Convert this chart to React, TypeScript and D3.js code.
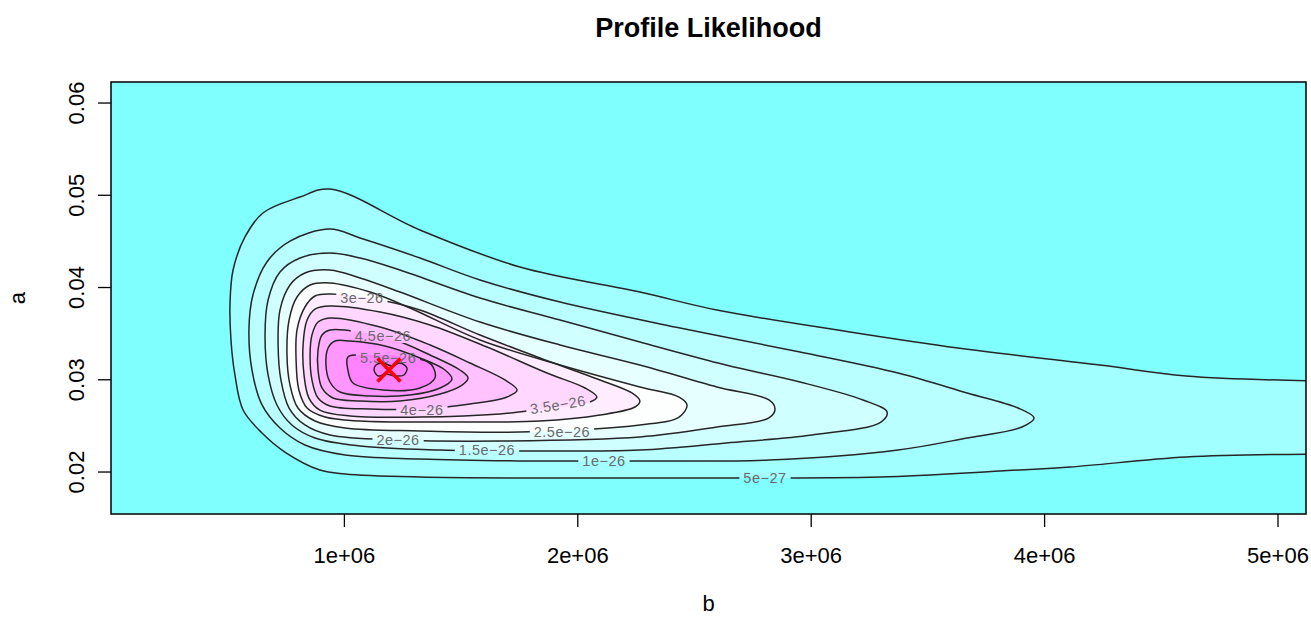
import React, { useEffect, useRef } from "react";
import * as d3 from "d3";

// ---------- data (b in millions, a) ----------
const levels = [5e-27, 1e-26, 1.5e-26, 2e-26, 2.5e-26, 3e-26, 3.5e-26, 4e-26, 4.5e-26, 5e-26, 5.5e-26, 6e-26];

// outermost contour (open at the right edge)
const c05: [number, number][] = [
  [5.18, 0.02987], [4.606, 0.03041], [4.237, 0.0316], [3.629, 0.03344], [3.166, 0.03518], [2.596, 0.03756],
  [2.266, 0.03951], [1.752, 0.04222], [1.324, 0.04624], [0.938, 0.05068], [0.81, 0.04981], [0.651, 0.04808],
  [0.574, 0.04548], [0.523, 0.0419], [0.51, 0.03832], [0.514, 0.03431], [0.531, 0.03052], [0.566, 0.02672],
  [0.647, 0.02423], [0.745, 0.02217], [0.895, 0.02022], [1.003, 0.01979], [1.324, 0.01946], [1.881, 0.01935],
  [2.524, 0.01935], [3.295, 0.01946], [3.809, 0.02011], [4.109, 0.02054], [4.606, 0.02163], [5.18, 0.02195],
];
const c10: [number, number][] = [
  [0.938, 0.04634], [0.767, 0.04504], [0.668, 0.04277], [0.608, 0.03919], [0.591, 0.0354], [0.604, 0.03106],
  [0.647, 0.02727], [0.724, 0.02477], [0.831, 0.02293], [1.003, 0.02185], [1.324, 0.02141], [1.752, 0.0212],
  [2.266, 0.0212], [2.819, 0.0213], [3.372, 0.02239], [3.668, 0.02369], [3.903, 0.02488], [3.955, 0.02586],
  [3.886, 0.02694], [3.668, 0.02857], [3.372, 0.03073], [2.952, 0.03301], [2.438, 0.03561], [1.924, 0.03843],
  [1.581, 0.04082], [1.324, 0.0432], [1.067, 0.04537],
];
const c15: [number, number][] = [
  [0.938, 0.04374], [0.81, 0.0432], [0.724, 0.04168], [0.673, 0.03865], [0.66, 0.03485], [0.673, 0.03052],
  [0.711, 0.02727], [0.775, 0.0251], [0.874, 0.02369], [1.067, 0.02282], [1.41, 0.02239], [1.795, 0.02228],
  [2.266, 0.02239], [2.635, 0.02315], [3.003, 0.02401], [3.299, 0.02542], [3.325, 0.02651], [3.222, 0.02781],
  [2.952, 0.02976], [2.635, 0.0316], [2.266, 0.03409], [1.924, 0.03648], [1.581, 0.03886], [1.238, 0.0419],
  [1.067, 0.0432],
];
const c20: [number, number][] = [
  [0.938, 0.0419], [0.831, 0.04157], [0.767, 0.04027], [0.724, 0.03756], [0.716, 0.03377], [0.728, 0.02998],
  [0.763, 0.02694], [0.831, 0.0251], [0.938, 0.02401], [1.238, 0.02347], [1.667, 0.02336], [2.266, 0.0238],
  [2.596, 0.02488], [2.819, 0.02586], [2.845, 0.02683], [2.819, 0.02781], [2.596, 0.02922], [2.266, 0.0316],
  [1.924, 0.03377], [1.581, 0.03626], [1.238, 0.03951], [1.067, 0.04103],
];
const c25: [number, number][] = [
  [0.938, 0.04049], [0.853, 0.04027], [0.797, 0.03897], [0.763, 0.03648], [0.754, 0.03269], [0.767, 0.02943],
  [0.801, 0.02694], [0.874, 0.02553], [1.003, 0.02477], [1.324, 0.02445], [1.752, 0.02434], [2.266, 0.0251],
  [2.434, 0.02596], [2.468, 0.02727], [2.434, 0.02813], [2.266, 0.02922], [1.924, 0.0316], [1.581, 0.03431],
  [1.281, 0.03778], [1.11, 0.03951],
];
const c30: [number, number][] = [
  [0.938, 0.0393], [0.874, 0.03908], [0.831, 0.03789], [0.797, 0.0354], [0.793, 0.03214], [0.805, 0.02889],
  [0.84, 0.02694], [0.917, 0.02596], [1.067, 0.02553], [1.41, 0.02542], [1.838, 0.02553], [2.095, 0.02618],
  [2.245, 0.02705], [2.266, 0.0277], [2.232, 0.02857], [2.095, 0.02998], [1.838, 0.03236], [1.581, 0.03485],
  [1.324, 0.03756], [1.153, 0.03865],
];
const c35: [number, number][] = [
  [0.938, 0.038], [0.874, 0.03767], [0.84, 0.03648], [0.823, 0.03377], [0.827, 0.03052], [0.848, 0.02802],
  [0.895, 0.02672], [1.024, 0.02607], [1.324, 0.02596], [1.667, 0.02629], [1.782, 0.02662], [1.924, 0.02705],
  [2.052, 0.02759], [2.082, 0.02813], [2.031, 0.02911], [1.868, 0.03073], [1.611, 0.03355], [1.367, 0.03594],
  [1.153, 0.03735],
];
const c40: [number, number][] = [
  [0.938, 0.0367], [0.887, 0.03626], [0.861, 0.03485], [0.853, 0.03269], [0.861, 0.02998], [0.887, 0.02802],
  [0.938, 0.02716], [1.11, 0.02683], [1.324, 0.02683], [1.538, 0.02737], [1.697, 0.02813], [1.74, 0.02889],
  [1.688, 0.02998], [1.538, 0.03182], [1.367, 0.03377], [1.153, 0.03572],
];
const c45: [number, number][] = [
  [0.938, 0.0354], [0.904, 0.03485], [0.887, 0.03323], [0.887, 0.03106], [0.904, 0.02911], [0.951, 0.02802],
  [1.067, 0.0277], [1.238, 0.0277], [1.41, 0.02846], [1.504, 0.02943], [1.53, 0.03019], [1.495, 0.03106],
  [1.367, 0.03269], [1.217, 0.03431], [1.067, 0.03518],
];
const c50: [number, number][] = [
  [0.96, 0.0342], [0.93, 0.03344], [0.921, 0.0316], [0.938, 0.02976], [0.981, 0.02867], [1.11, 0.02824],
  [1.281, 0.02835], [1.41, 0.02911], [1.461, 0.03008], [1.431, 0.03106], [1.324, 0.03236], [1.174, 0.03366],
  [1.024, 0.0342],
];
const c55: [number, number][] = [
  [1.015, 0.03247], [1.015, 0.03106], [1.037, 0.02965], [1.165, 0.02889], [1.324, 0.02911], [1.388, 0.03019],
  [1.38, 0.03138], [1.358, 0.03193], [1.238, 0.03258], [1.11, 0.03269],
];
const c60: [number, number][] = [
  [1.135, 0.0316], [1.165, 0.03182], [1.204, 0.03149], [1.238, 0.03182], [1.268, 0.03128], [1.255, 0.03052],
  [1.217, 0.03041], [1.178, 0.03063], [1.144, 0.03041], [1.127, 0.03106],
];
const contours = [c05, c10, c15, c20, c25, c30, c35, c40, c45, c50, c55, c60];

// contour labels
const labelIndex = [0, 1, 2, 3, 4, 5, 6, 7, 8, 10];
const labelText = ["5e\u221227", "1e\u221226", "1.5e\u221226", "2e\u221226", "2.5e\u221226", "3e\u221226", "3.5e\u221226", "4e\u221226", "4.5e\u221226", "5.5e\u221226"];
const labelB = [2.802, 2.112, 1.611, 1.23, 1.932, 1.075, 1.915, 1.332, 1.165, 1.187];
const labelA = [0.01935, 0.02117, 0.02239, 0.02347, 0.02434, 0.03886, 0.02727, 0.02672, 0.03475, 0.03236];
const labelAngle = [0, 0, 0, 0, 0, 0, -9, 0, 0, 0];

// maximum likelihood estimate
const mle: [number, number] = [1.191, 0.03106];

const xTicks = [1, 2, 3, 4, 5];
const xTickLabels = ["1e+06", "2e+06", "3e+06", "4e+06", "5e+06"];
const yTicks = [0.02, 0.03, 0.04, 0.05, 0.06];
const yTickLabels = ["0.02", "0.03", "0.04", "0.05", "0.06"];

const W = 1311;
const H = 617;
const FONT = "'Liberation Sans', Arial, Helvetica, sans-serif";

export default function App() {
  const ref = useRef<SVGSVGElement>(null);

  useEffect(() => {
    const svg = d3.select(ref.current);
    svg.selectAll("*").remove();

    const left = 111, right = 1306, top = 82, bottom = 514;
    const x = d3.scaleLinear().domain([0, 5.12]).range([left, right]);
    const y = d3.scaleLinear().domain([0.01545, 0.06228]).range([bottom, top]);
    const color = d3
      .scaleLinear<string>()
      .domain([0, 2.8e-26, 5.8e-26])
      .range(["#80ffff", "#ffffff", "#ff80ff"])
      .clamp(true);

    const defs = svg.append("defs");
    defs
      .append("clipPath")
      .attr("id", "plotclip")
      .append("rect")
      .attr("x", left)
      .attr("y", top)
      .attr("width", right - left)
      .attr("height", bottom - top);

    const openLine = d3
      .line<[number, number]>()
      .x((d) => x(d[0]))
      .y((d) => y(d[1]))
      .curve(d3.curveCatmullRom.alpha(0.5));
    const closedLine = d3
      .line<[number, number]>()
      .x((d) => x(d[0]))
      .y((d) => y(d[1]))
      .curve(d3.curveCatmullRomClosed.alpha(0.5));
    const pathOf = (c: [number, number][], i: number) => (i === 0 ? openLine(c) : closedLine(c)) as string;

    const plot = svg.append("g").attr("clip-path", "url(#plotclip)");
    plot
      .append("rect")
      .attr("x", left)
      .attr("y", top)
      .attr("width", right - left)
      .attr("height", bottom - top)
      .attr("fill", color(0));

    // filled bands
    contours.forEach((c, i) => {
      const next = i + 1 < levels.length ? levels[i + 1] : levels[i] + 5e-27;
      plot
        .append("path")
        .attr("d", pathOf(c, i) + (i === 0 ? "Z" : ""))
        .attr("fill", color((levels[i] + next) / 2))
        .attr("stroke", "none");
    });

    // labels (measure first, then build masks that break the lines)
    const labelG = svg.append("g").attr("clip-path", "url(#plotclip)");
    const masks: { [k: number]: string } = {};
    labelIndex.forEach((ci, j) => {
      const cx = x(labelB[j]);
      const cy = y(labelA[j]);
      const t = labelG
        .append("text")
        .attr("x", cx)
        .attr("y", cy)
        .attr("text-anchor", "middle")
        .attr("dominant-baseline", "central")
        .attr("font-family", FONT)
        .attr("font-size", 14.5)
        .attr("letter-spacing", 0.5)
        .attr("fill", "#6a6a6a")
        .text(labelText[j]);
      const bb = (t.node() as SVGTextElement).getBBox();
      if (labelAngle[j]) t.attr("transform", `rotate(${labelAngle[j]},${cx},${cy})`);
      const id = `lab${ci}`;
      const m = defs
        .append("mask")
        .attr("id", id)
        .attr("maskUnits", "userSpaceOnUse")
        .attr("x", 0)
        .attr("y", 0)
        .attr("width", W)
        .attr("height", H);
      m.append("rect").attr("x", 0).attr("y", 0).attr("width", W).attr("height", H).attr("fill", "white");
      m.append("rect")
        .attr("x", cx - bb.width / 2 - 4)
        .attr("y", cy - bb.height / 2 + 1)
        .attr("width", bb.width + 8)
        .attr("height", bb.height - 2)
        .attr("fill", "black")
        .attr("transform", `rotate(${labelAngle[j]},${cx},${cy})`);
      masks[ci] = id;
    });

    // contour lines
    const lineG = plot.append("g");
    contours.forEach((c, i) => {
      const p = lineG
        .append("path")
        .attr("d", pathOf(c, i))
        .attr("fill", "none")
        .attr("stroke", "#262626")
        .attr("stroke-width", 1.5)
        .attr("stroke-linejoin", "round");
      if (masks[i]) p.attr("mask", `url(#${masks[i]})`);
    });
    labelG.raise();

    // MLE cross
    const mx = x(mle[0]);
    const my = y(mle[1]);
    const s = 11.5;
    svg
      .append("path")
      .attr("d", `M${mx - s},${my - s}L${mx + s},${my + s}M${mx - s},${my + s}L${mx + s},${my - s}`)
      .attr("stroke", "#ff0000")
      .attr("stroke-width", 3.5)
      .attr("fill", "none");

    // box
    svg
      .append("rect")
      .attr("x", left)
      .attr("y", top)
      .attr("width", right - left)
      .attr("height", bottom - top)
      .attr("fill", "none")
      .attr("stroke", "#000")
      .attr("stroke-width", 1.5);

    // x axis
    const tick = 13;
    const xa = svg.append("g");
    xTicks.forEach((v, i) => {
      xa.append("line")
        .attr("x1", x(v))
        .attr("x2", x(v))
        .attr("y1", bottom)
        .attr("y2", bottom + tick)
        .attr("stroke", "#000")
        .attr("stroke-width", 1.3);
      xa.append("text")
        .attr("x", x(v))
        .attr("y", 563)
        .attr("text-anchor", "middle")
        .attr("font-family", FONT)
        .attr("font-size", 22)
        .attr("fill", "#000")
        .text(xTickLabels[i]);
    });

    // y axis
    const ya = svg.append("g");
    yTicks.forEach((v, i) => {
      ya.append("line")
        .attr("x1", left)
        .attr("x2", left - tick)
        .attr("y1", y(v))
        .attr("y2", y(v))
        .attr("stroke", "#000")
        .attr("stroke-width", 1.3);
      ya.append("text")
        .attr("transform", `translate(84,${y(v)}) rotate(-90)`)
        .attr("text-anchor", "middle")
        .attr("font-family", FONT)
        .attr("font-size", 22)
        .attr("fill", "#000")
        .text(yTickLabels[i]);
    });

    // titles
    svg
      .append("text")
      .attr("x", (left + right) / 2)
      .attr("y", 37)
      .attr("text-anchor", "middle")
      .attr("font-family", FONT)
      .attr("font-weight", "bold")
      .attr("font-size", 27)
      .attr("fill", "#000")
      .text("Profile Likelihood");
    svg
      .append("text")
      .attr("x", (left + right) / 2)
      .attr("y", 611)
      .attr("text-anchor", "middle")
      .attr("font-family", FONT)
      .attr("font-size", 22)
      .attr("fill", "#000")
      .text("b");
    svg
      .append("text")
      .attr("transform", `translate(25,${(top + bottom) / 2}) rotate(-90)`)
      .attr("text-anchor", "middle")
      .attr("font-family", FONT)
      .attr("font-size", 22)
      .attr("fill", "#000")
      .text("a");
  }, []);

  return (
    <svg
      ref={ref}
      width={W}
      height={H}
      style={{ position: "absolute", left: 0, top: 0, background: "#ffffff", display: "block" }}
    />
  );
}
